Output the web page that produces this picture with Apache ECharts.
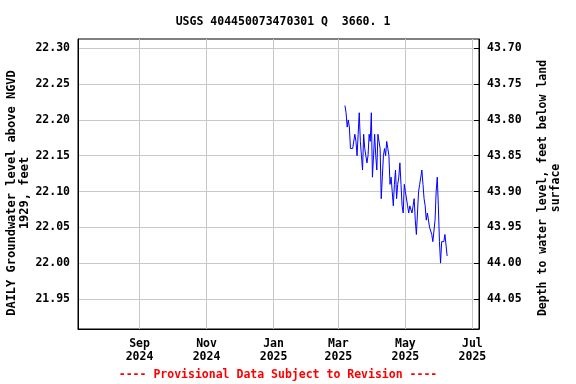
<!DOCTYPE html>
<html>
<head>
<meta charset="utf-8">
<script src="https://cdn.jsdelivr.net/npm/echarts@6/dist/echarts.min.js"></script>
<style>html,body{margin:0;padding:0;background:#fff}#c{width:576px;height:384px}</style>
</head>
<body>
<div id="c"></div>
<script>
// Daily groundwater level (ft above NGVD 1929), consecutive days starting 2025-03-07
const startDate = [2025, 2, 7];
const levels = [
  22.22, 22.21, 22.19, 22.20, 22.19, 22.16, 22.16, 22.16, 22.16, 22.18,
  22.17, 22.15, 22.18, 22.21, 22.17, 22.15, 22.13, 22.18, 22.16, 22.15,
  22.14, 22.15, 22.18, 22.17, 22.21, 22.12, 22.15, 22.18, 22.15, 22.13,
  22.18, 22.18, 22.16, 22.09, 22.12, 22.15, 22.16, 22.15, 22.17, 22.16,
  22.15, 22.11, 22.12, 22.10, 22.08, 22.11, 22.13, 22.09, 22.11, 22.12,
  22.14, 22.11, 22.08, 22.07, 22.11, 22.10, 22.10, 22.08, 22.07, 22.08,
  22.08, 22.07, 22.08, 22.09, 22.06, 22.04, 22.07, 22.10, 22.11, 22.12,
  22.13, 22.11, 22.09, 22.08, 22.06, 22.07, 22.06, 22.05, 22.05, 22.04,
  22.03, 22.03, 22.06, 22.10, 22.12, 22.08, 22.03, 22.00, 22.03, 22.03,
  22.03, 22.04, 22.04, 22.01
];
const levelTicks = [21.95, 22.00, 22.05, 22.10, 22.15, 22.20, 22.25, 22.30];
const depthTicks = [43.70, 43.75, 43.80, 43.85, 43.90, 43.95, 44.00, 44.05];
const datum = 66.00; // depth = datum - level
const monthTicks = [[2024, 8], [2024, 10], [2025, 0], [2025, 2], [2025, 4], [2025, 6]];
const monthNames = ['Jan','Feb','Mar','Apr','May','Jun','Jul','Aug','Sep','Oct','Nov','Dec'];
const xRange = [[2024, 6, 7], [2025, 6, 7]];
const yRange = [21.908, 22.313];

const data = levels.map((v, i) => [Date.UTC(startDate[0], startDate[1], startDate[2] + i), v]);
const xTickVals = monthTicks.map(m => Date.UTC(m[0], m[1], 1));

const FONT = 'DejaVu Sans Mono';
const chart = echarts.init(document.getElementById('c'), null, {renderer: 'canvas'});
chart.setOption({
  animation: false,
  backgroundColor: '#fff',
  title: {
    text: 'USGS 404450073470301 Q  3660. 1',
    left: 278, top: 11, textAlign: 'center',
    textStyle: {fontFamily: FONT, fontWeight: 'bold', fontSize: 11.5, color: '#000'}
  },
  grid: {left: 78, right: 97, top: 39, bottom: 55, show: true, borderColor: '#000', borderWidth: 1, containLabel: false},
  xAxis: {
    type: 'value',
    min: Date.UTC(...xRange[0]), max: Date.UTC(...xRange[1]),
    axisLine: {show: true, lineStyle: {color: '#000'}},
    axisTick: {show: false, customValues: xTickVals},
    axisLabel: {
      customValues: xTickVals,
      margin: 9, lineHeight: 13,
      fontFamily: FONT, fontWeight: 'bold', fontSize: 11.5, color: '#000',
      formatter: v => { const d = new Date(v); return monthNames[d.getUTCMonth()] + '\n' + d.getUTCFullYear(); }
    },
    splitLine: {show: true, lineStyle: {color: '#c8c8c8', width: 1}}
  },
  yAxis: [
    {
      type: 'value', position: 'left',
      min: yRange[0], max: yRange[1],
      axisLine: {show: true, lineStyle: {color: '#000'}},
      axisTick: {show: false, customValues: levelTicks},
      axisLabel: {customValues: levelTicks, margin: 8, fontFamily: FONT, fontWeight: 'bold', fontSize: 11.5, color: '#000',
        formatter: v => v.toFixed(2)},
      splitLine: {show: true, lineStyle: {color: '#c8c8c8', width: 1}}
    },
    {
      type: 'value', position: 'right', inverse: true,
      min: datum - yRange[1], max: datum - yRange[0],
      axisLine: {show: true, lineStyle: {color: '#000'}},
      axisTick: {show: true, inside: true, length: 5, customValues: depthTicks, lineStyle: {color: '#000'}},
      axisLabel: {customValues: depthTicks, margin: 8, fontFamily: FONT, fontWeight: 'bold', fontSize: 11.5, color: '#000',
        formatter: v => v.toFixed(2)},
      splitLine: {show: false}
    }
  ],
  series: [{
    type: 'line', data: data, yAxisIndex: 0, showSymbol: false, symbol: 'none',
    lineStyle: {color: '#0000ff', width: 1}, clip: true
  }],
  graphic: [
    {type: 'text', x: 18, y: 193, rotation: Math.PI / 2,
      style: {text: 'DAILY Groundwater level above NGVD\n1929, feet', fill: '#000', align: 'center', verticalAlign: 'middle',
        font: 'bold 12px "DejaVu Sans Mono"', lineHeight: 13}},
    {type: 'text', x: 550, y: 188, rotation: Math.PI / 2,
      style: {text: 'Depth to water level, feet below land\nsurface', fill: '#000', align: 'center', verticalAlign: 'middle',
        font: 'bold 11.5px "DejaVu Sans Mono"', lineHeight: 13}},
    {type: 'text', x: 278, y: 375,
      style: {text: '---- Provisional Data Subject to Revision ----', fill: '#ff0000', align: 'center', verticalAlign: 'middle',
        font: 'bold 11.5px "DejaVu Sans Mono"'}}
  ]
});
</script>
</body>
</html>
